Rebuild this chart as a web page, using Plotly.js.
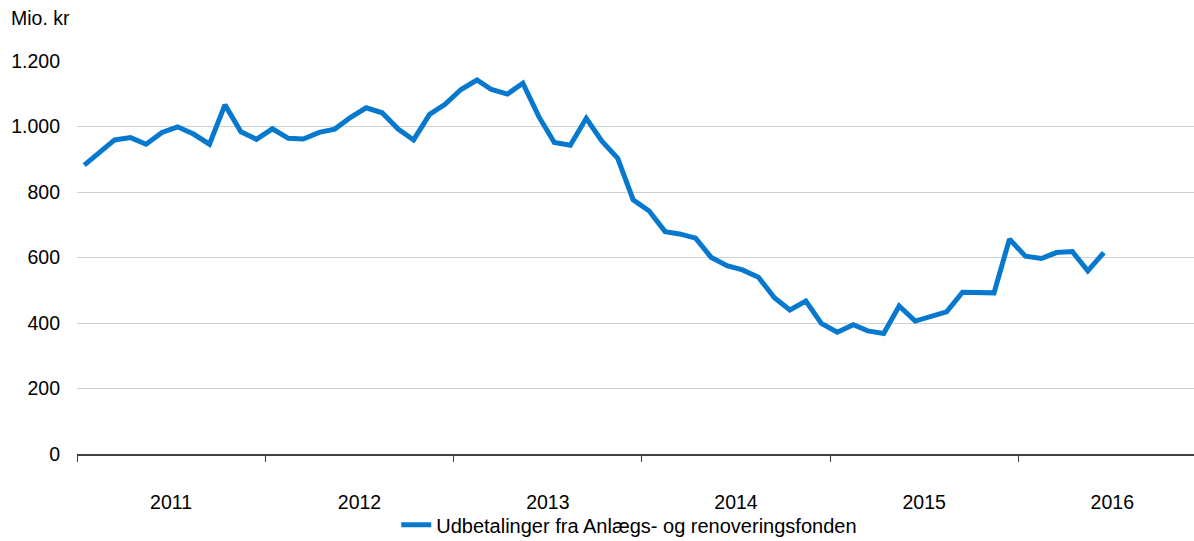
<!DOCTYPE html>
<html>
<head>
<meta charset="utf-8">
<script src="https://cdn.plot.ly/plotly-3.0.1.min.js"></script>
<style>
  html, body { margin: 0; padding: 0; background: #ffffff; }
  #chart { width: 1194px; height: 541px; }
</style>
</head>
<body>
<div id="chart"></div>
<script>
// Monthly series, January 2011 – June 2016
var startYear = 2011;
var startMonth = 1;
var seriesName = "Udbetalinger fra Anlægs- og renoveringsfonden";
var unitLabel = "Mio. kr";

var values = [
  882, 920, 959, 966, 946, 982, 999, 977, 946, 1066, 984, 961,
  993, 964, 962, 982, 992, 1028, 1057, 1042, 992, 959, 1037, 1068,
  1113, 1142, 1113, 1099, 1132, 1030, 951, 943, 1025, 956, 903, 776,
  742, 679, 672, 659, 601, 575, 562, 540, 477, 440, 467, 399,
  372, 395, 376, 368, 452, 406, 421, 434, 494, 494, 492, 656,
  604, 597, 615, 618, 559, 615
];

var yTicks = [0, 200, 400, 600, 800, 1000, 1200];

// month positions (mid-month dates)
var months = values.map(function (v, i) {
  var m = (startMonth - 1 + i);
  var y = startYear + Math.floor(m / 12);
  var mm = (m % 12) + 1;
  return y + "-" + (mm < 10 ? "0" + mm : mm) + "-15";
});

var trace = {
  x: months,
  y: values,
  type: "scatter",
  mode: "lines",
  name: seriesName,
  line: { color: "#0679cf", width: 5 }
};

var FS = 19.5;

var layout = {
  width: 1194,
  height: 541,
  margin: { l: 77, r: 0, t: 61, b: 87 },
  paper_bgcolor: "#ffffff",
  plot_bgcolor: "#ffffff",
  separators: ",.",
  font: { family: "Liberation Sans, Arial, sans-serif", size: FS, color: "#000000" },
  showlegend: true,
  legend: {
    orientation: "h",
    xref: "container",
    yref: "container",
    x: 0.527,
    xanchor: "center",
    y: 0.03,
    yanchor: "middle",
    font: { size: 20, color: "#000000" },
    bgcolor: "rgba(0,0,0,0)"
  },
  xaxis: {
    type: "date",
    range: ["2011-01-01", "2016-12-07"],
    tick0: "2011-01-01",
    dtick: "M12",
    tickformat: "%Y",
    ticklabelmode: "period",
    ticks: "outside",
    ticklen: 6,
    tickcolor: "#404040",
    tickwidth: 1,
    ticklabelstandoff: 24,
    showgrid: false,
    showline: true,
    linecolor: "#404040",
    linewidth: 1.5,
    zeroline: false,
    tickfont: { size: FS, color: "#000000" },
    fixedrange: true
  },
  yaxis: {
    range: [0, 1200],
    tickvals: yTicks,
    tickformat: ",d",
    showgrid: true,
    gridcolor: "#d0d0d0",
    gridwidth: 1,
    zeroline: false,
    showline: false,
    ticks: "",
    ticklabelstandoff: 16,
    tickfont: { size: FS, color: "#000000" },
    fixedrange: true
  },
  annotations: [
    {
      text: unitLabel,
      xref: "paper",
      yref: "paper",
      x: -77 / 1117 + 9 / 1117,
      y: 1 + 43 / 393,
      xanchor: "left",
      yanchor: "middle",
      showarrow: false,
      font: { size: FS, color: "#000000" }
    }
  ]
};

Plotly.newPlot("chart", [trace], layout, { displayModeBar: false, staticPlot: true });
</script>
</body>
</html>
